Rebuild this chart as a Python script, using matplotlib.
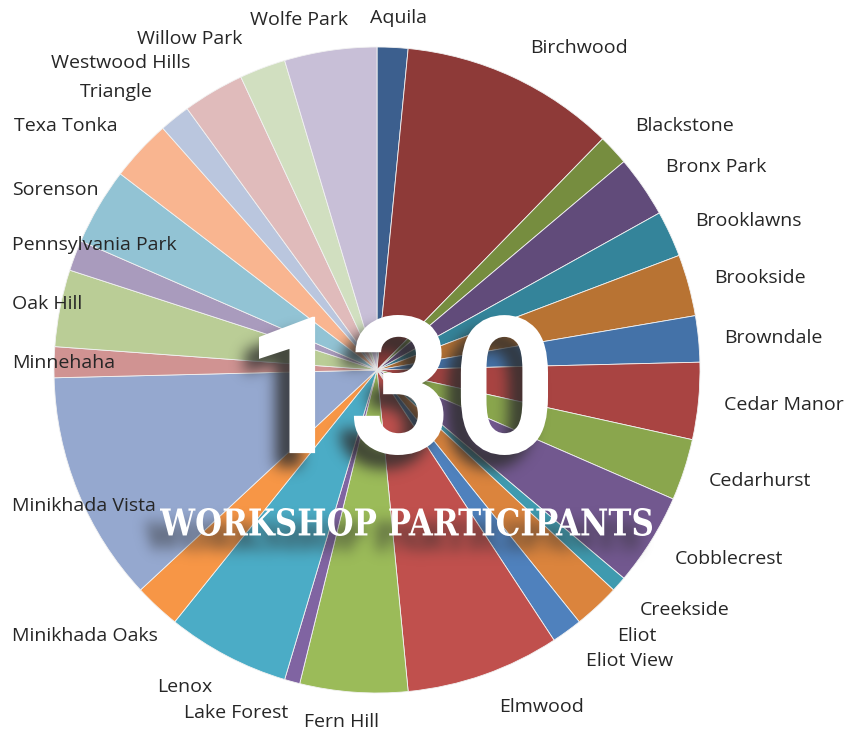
import numpy as np
import matplotlib
matplotlib.use("Agg")
import matplotlib.pyplot as plt
from matplotlib.textpath import TextPath
from matplotlib.patches import PathPatch
from matplotlib.font_manager import FontProperties
from matplotlib.transforms import Affine2D

# participants per neighbourhood, clockwise from the top
neighbourhoods = [
    "Aquila", "Birchwood", "Blackstone", "Bronx Park", "Brooklawns", "Brookside",
    "Browndale", "Cedar Manor", "Cedarhurst", "Cobblecrest", "Creekside", "Eliot",
    "Eliot View", "Elmwood", "Fern Hill", "Lake Forest", "Lenox", "Minikhada Oaks",
    "Minikhada Vista", "Minnehaha", "Oak Hill", "Pennsylvania Park", "Sorenson",
    "Texa Tonka", "Triangle", "Westwood Hills", "Willow Park", "Wolfe Park",
]
participants = [2, 14, 2, 4, 3, 4, 3, 5, 4, 6, 1, 3, 2, 10, 7, 1, 8, 3,
                15, 2, 5, 2, 5, 4, 2, 4, 3, 6]
total_label = "130"
subtitle = "WORKSHOP PARTICIPANTS"

colors = [
    "#3c5f8e", "#8e3a38", "#768d3f", "#614b7a", "#34849a", "#b87333",
    "#4472a8", "#a94442", "#8aa64d", "#72588f", "#3f9aaf", "#db843d",
    "#4f81bd", "#c0504d", "#9bbb59", "#8064a2", "#4bacc6", "#f79646",
    "#95a8cf", "#d09392", "#bacd96", "#a99bbd", "#92c3d4", "#f9b590",
    "#bac6de", "#e0bbbb", "#d1dfc0", "#c8bfd7",
]

# label anchors in pixels (left x, centre y from the top)
label_pos = {
    "Aquila": (370, 18), "Birchwood": (530, 48), "Blackstone": (635, 126),
    "Bronx Park": (666, 167), "Brooklawns": (695, 221), "Brookside": (714, 278),
    "Browndale": (724, 338), "Cedar Manor": (724, 405), "Cedarhurst": (709, 481),
    "Cobblecrest": (675, 559), "Creekside": (640, 610), "Eliot": (617, 636),
    "Eliot View": (586, 661), "Elmwood": (499, 707), "Fern Hill": (304, 722),
    "Lake Forest": (184, 713), "Lenox": (157, 687), "Minikhada Oaks": (12, 636),
    "Minikhada Vista": (12, 506), "Minnehaha": (12, 363), "Oak Hill": (12, 304),
    "Pennsylvania Park": (12, 245), "Sorenson": (12, 190), "Texa Tonka": (14, 126),
    "Triangle": (80, 92), "Westwood Hills": (51, 63), "Willow Park": (137, 39),
    "Wolfe Park": (250, 20),
}

W, H = 850, 737
CX, CY, R = 377, 370, 323


def blur(img, sigma):
    k = int(sigma * 3)
    xs = np.arange(-k, k + 1)
    g = np.exp(-xs ** 2 / (2 * sigma ** 2))
    g /= g.sum()
    img = np.apply_along_axis(lambda r: np.convolve(r, g, mode="same"), 1, img)
    img = np.apply_along_axis(lambda c: np.convolve(c, g, mode="same"), 0, img)
    return img


def fitted_text(s, prop, box):
    # text outline squeezed into the ink box (x0, top, x1, bottom) in pixels
    tp = TextPath((0, 0), s, size=100, prop=prop)
    ext = tp.get_extents()
    x0, top, x1, bottom = box
    sx = (x1 - x0) / ext.width
    sy = (bottom - top) / ext.height
    tr = (Affine2D().translate(-ext.x0, -ext.y0).scale(sx, sy)
          .translate(x0, H - bottom))
    return tr.transform_path(tp)


big_prop = FontProperties(family="Roboto", weight="bold")
sub_prop = FontProperties(family="DejaVu Serif", weight="bold")
title_paths = [
    fitted_text(total_label, big_prop, (259, 315, 548, 455)),
    fitted_text(subtitle, sub_prop, (160, 508, 652, 536)),
]


def draw_titles(ax, color, dx=0, dy=0, z=6):
    for p in title_paths:
        p2 = Affine2D().translate(dx, -dy).transform_path(p)
        ax.add_patch(PathPatch(p2, facecolor=color, edgecolor="none", zorder=z))


fig = plt.figure(figsize=(W / 100, H / 100), dpi=100)
ax = fig.add_axes([0, 0, 1, 1])

ax.pie(participants, colors=colors, startangle=90, counterclock=False,
       center=(CX, H - CY), radius=R,
       wedgeprops=dict(edgecolor="#f2f2f2", linewidth=0.6))

for name in neighbourhoods:
    x, y = label_pos[name]
    ax.text(x, H - y, name, fontsize=14, fontfamily="Open Sans",
            color="#262626", ha="left", va="center")

# blurred drop shadow behind the headline
sfig = plt.figure(figsize=(W / 100, H / 100), dpi=100)
sax = sfig.add_axes([0, 0, 1, 1])
sax.set_xlim(0, W)
sax.set_ylim(0, H)
sax.axis("off")
draw_titles(sax, "black", dx=-14, dy=14)
sfig.canvas.draw()
buf = np.asarray(sfig.canvas.buffer_rgba()).astype(float)
mask = 1 - buf[..., 0] / 255.0
plt.close(sfig)
mask = blur(mask, 7)
shadow = np.zeros((mask.shape[0], mask.shape[1], 4))
shadow[..., :3] = 0.18
shadow[..., 3] = np.clip(mask * 0.85, 0, 1)
ax.imshow(shadow, extent=[0, W, 0, H], origin="upper", zorder=5,
          interpolation="bilinear")

draw_titles(ax, "white")

ax.set_xlim(0, W)
ax.set_ylim(0, H)
ax.set_aspect("equal")
ax.axis("off")

fig.savefig("out.png", dpi=100, facecolor="white")
